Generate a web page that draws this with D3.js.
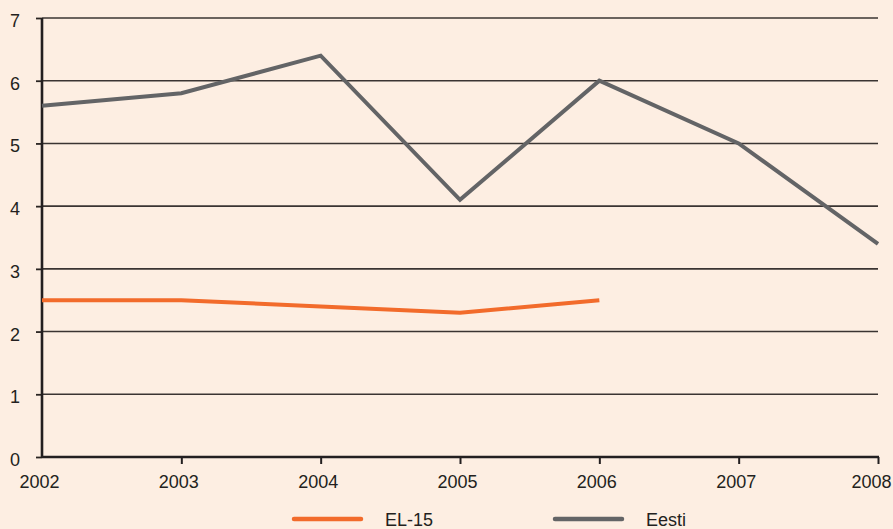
<!DOCTYPE html>
<html lang="et">
<head>
<meta charset="utf-8">
<script src="https://d3js.org/d3.v7.min.js"></script>
<style>
  html, body { margin: 0; padding: 0; background: #fdeee2; }
  svg { display: block; font-family: "Liberation Sans", Arial, sans-serif; }
</style>
</head>
<body>
<script>
  // chart data
  const years = [2002, 2003, 2004, 2005, 2006, 2007, 2008];
  const eesti = [5.6, 5.8, 6.4, 4.1, 6.0, 5.0, 3.4];
  const el15 = [2.5, 2.5, 2.4, 2.3, 2.5];
  const yTicks = [0, 1, 2, 3, 4, 5, 6, 7];

  const width = 893, height = 529;
  const plotLeft = 42, plotRight = 878, plotTop = 18, plotBottom = 457;

  const svg = d3.select("body").append("svg")
    .attr("width", width)
    .attr("height", height);

  svg.append("rect").attr("width", width).attr("height", height).attr("fill", "#fdeee2");

  const x = d3.scaleLinear().domain([2002, 2008]).range([plotLeft, plotRight]);
  const y = d3.scaleLinear().domain([0, 7]).range([plotBottom, plotTop]);

  // horizontal grid lines
  svg.append("g")
    .selectAll("line")
    .data(yTicks.filter(d => d > 0))
    .enter().append("line")
    .attr("x1", plotLeft).attr("x2", plotRight)
    .attr("y1", d => y(d)).attr("y2", d => y(d))
    .attr("stroke", "#3a3432").attr("stroke-width", 1.6);

  // left axis
  const yAxis = svg.append("g")
    .attr("transform", "translate(" + plotLeft + ",0)")
    .call(d3.axisLeft(y).tickValues(yTicks).tickSize(6).tickPadding(16).tickFormat(d3.format("d")));
  yAxis.select(".domain").remove();
  yAxis.selectAll(".tick line").attr("stroke", "#2a2422").attr("stroke-width", 1.8);
  yAxis.selectAll("text").attr("fill", "#231f20").attr("dy", "0.47em").style("font-size", "18px");
  svg.append("line")
    .attr("x1", plotLeft).attr("x2", plotLeft).attr("y1", plotTop).attr("y2", plotBottom + 1)
    .attr("stroke", "#231f20").attr("stroke-width", 2.6);

  // bottom axis
  const xAxis = svg.append("g")
    .attr("transform", "translate(0," + plotBottom + ")")
    .call(d3.axisBottom(x).tickValues(years).tickSize(7).tickPadding(11).tickFormat(d3.format("d")));
  xAxis.select(".domain").remove();
  xAxis.selectAll(".tick line").attr("stroke", "#231f20").attr("stroke-width", 2);
  xAxis.selectAll("text").attr("fill", "#231f20").attr("dx", -3).style("font-size", "18px");
  xAxis.selectAll(".tick").filter(d => d === 2002).select("line").remove();
  // last label sits against the right edge
  xAxis.selectAll(".tick").filter(d => d === 2008).select("text")
    .attr("text-anchor", "end").attr("dx", 13);
  svg.append("line")
    .attr("x1", plotLeft).attr("x2", plotRight + 1).attr("y1", plotBottom).attr("y2", plotBottom)
    .attr("stroke", "#231f20").attr("stroke-width", 2.6);

  const line = d3.line()
    .x(d => x(d.year))
    .y(d => y(d.value));

  const series = [
    { name: "EL-15", color: "#f26b2b", values: el15 },
    { name: "Eesti", color: "#636466", values: eesti }
  ];

  svg.append("g")
    .selectAll("path")
    .data(series)
    .enter().append("path")
    .attr("fill", "none")
    .attr("stroke", d => d.color)
    .attr("stroke-width", 4)
    .attr("stroke-linejoin", "miter")
    .attr("d", d => line(d.values.map((v, i) => ({ year: years[i], value: v }))));

  // legend
  const legendX = [294, 555];
  const legend = svg.append("g")
    .selectAll("g")
    .data(series)
    .enter().append("g")
    .attr("transform", (d, i) => "translate(" + legendX[i] + ",519)");
  legend.append("line")
    .attr("x1", 0).attr("x2", 67)
    .attr("stroke", d => d.color).attr("stroke-width", 4.5)
    .attr("stroke-linecap", "round");
  legend.append("text")
    .attr("x", 91).attr("y", 7)
    .attr("fill", "#231f20")
    .style("font-size", "18px")
    .text(d => d.name);
</script>
</body>
</html>
